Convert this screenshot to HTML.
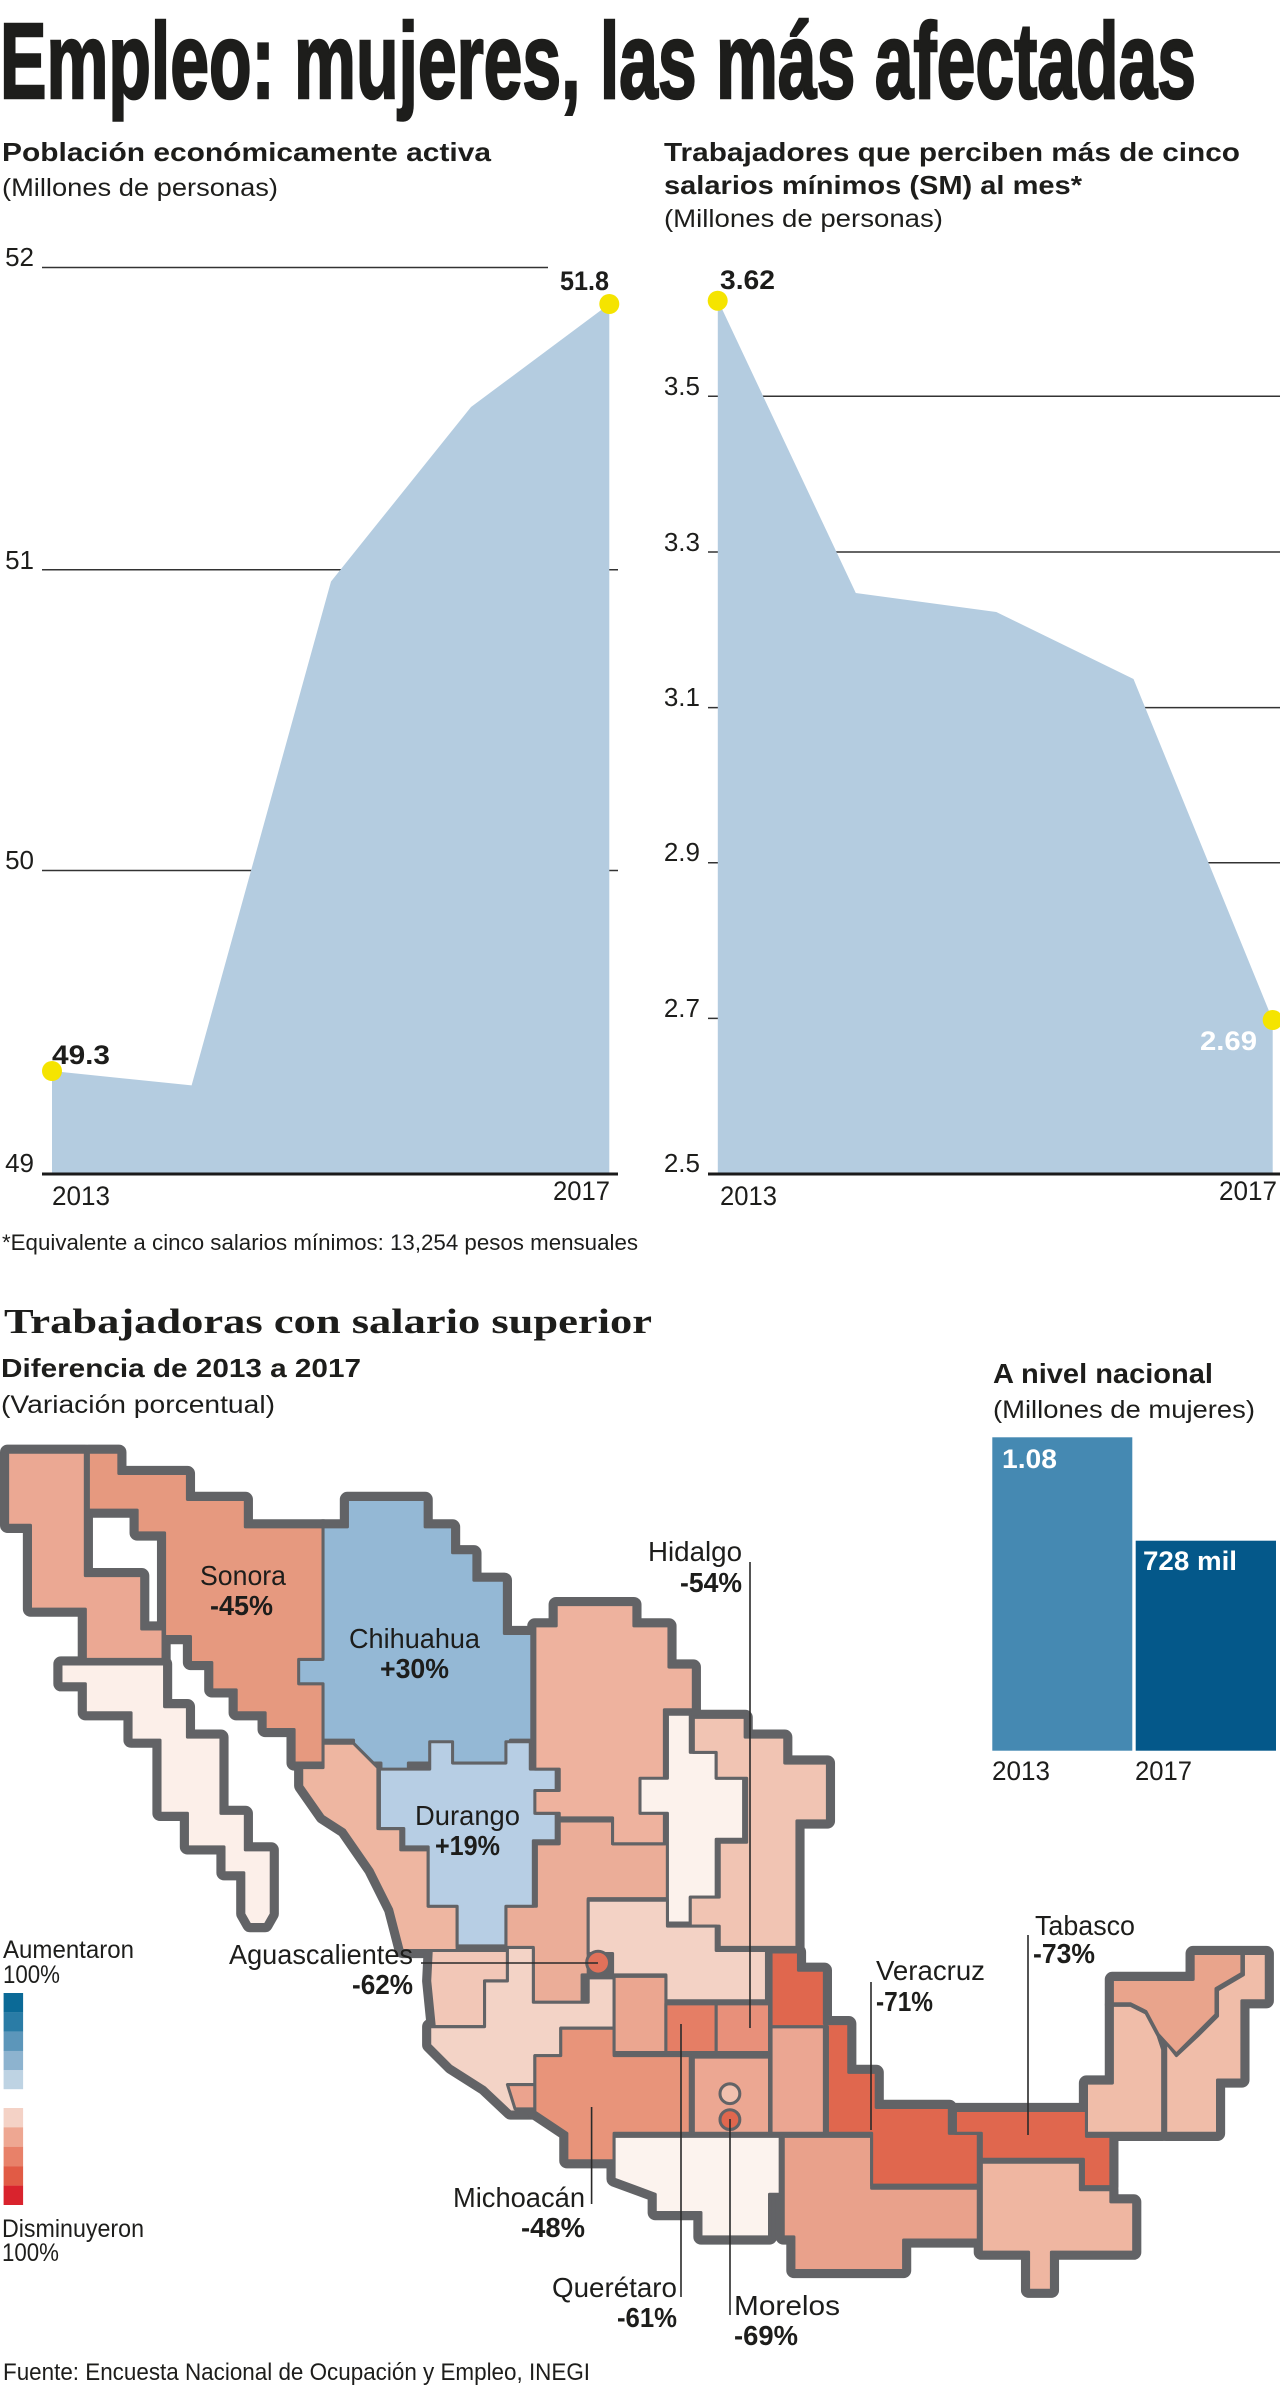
<!DOCTYPE html>
<html>
<head>
<meta charset="utf-8">
<style>
html,body{margin:0;padding:0;background:#fff}
svg{display:block}
text{font-family:"Liberation Sans",sans-serif;fill:#1d1d1b}
.c{font-family:"Liberation Sans Narrow","Liberation Sans",sans-serif}
.b{font-weight:bold}
</style>
</head>
<body>
<svg xmlns="http://www.w3.org/2000/svg" width="1280" height="2388" viewBox="0 0 1280 2388">
<rect x="0" y="0" width="1280" height="2388" fill="#fff"/>

<!-- Title -->
<text class="c b" x="0" y="98" font-size="108" textLength="1196" lengthAdjust="spacingAndGlyphs" stroke="#1d1d1b" stroke-width="2.5">Empleo: mujeres, las más afectadas</text>

<!-- Subtitles -->
<text class="c b" x="2" y="161" font-size="26" textLength="489" lengthAdjust="spacingAndGlyphs">Población económicamente activa</text>
<text class="c" x="2" y="196" font-size="25" textLength="276" lengthAdjust="spacingAndGlyphs">(Millones de personas)</text>
<text class="c b" x="664" y="161" font-size="26" textLength="576" lengthAdjust="spacingAndGlyphs">Trabajadores que perciben más de cinco</text>
<text class="c b" x="664" y="194" font-size="26" textLength="418" lengthAdjust="spacingAndGlyphs">salarios mínimos (SM) al mes*</text>
<text class="c" x="664" y="227" font-size="25" textLength="279" lengthAdjust="spacingAndGlyphs">(Millones de personas)</text>

<!-- Chart 1 -->
<g stroke="#333" stroke-width="1.5">
<line x1="42" y1="267.5" x2="548" y2="267.5"/>
<line x1="42" y1="569.7" x2="618" y2="569.7"/>
<line x1="42" y1="870.5" x2="618" y2="870.5"/>
</g>
<polygon points="52,1071 191.6,1085.4 331,581.5 471,407 609.3,304 609.3,1174 52,1174" fill="#b4cce0"/>
<line x1="42" y1="1174" x2="618" y2="1174" stroke="#1a1a1a" stroke-width="3"/>
<circle cx="52" cy="1071" r="10" fill="#f5e400"/>
<circle cx="609.3" cy="304" r="10" fill="#f5e400"/>
<g font-size="26" fill="#2a2a2a" text-anchor="end">
<text x="34" y="266">52</text>
<text x="34" y="569">51</text>
<text x="34" y="869">50</text>
<text x="34" y="1172">49</text>
</g>
<text class="b" x="52" y="1064" font-size="27" textLength="58" lengthAdjust="spacingAndGlyphs">49.3</text>
<text class="b" x="560" y="290" font-size="27" textLength="49" lengthAdjust="spacingAndGlyphs">51.8</text>
<text x="52" y="1205" font-size="27" textLength="58" lengthAdjust="spacingAndGlyphs">2013</text>
<text x="553" y="1200" font-size="27" textLength="57" lengthAdjust="spacingAndGlyphs">2017</text>

<!-- Chart 2 -->
<g stroke="#333" stroke-width="1.5">
<line x1="708" y1="396.2" x2="1280" y2="396.2"/>
<line x1="708" y1="552" x2="1280" y2="552"/>
<line x1="708" y1="707.6" x2="1280" y2="707.6"/>
<line x1="708" y1="862.7" x2="1280" y2="862.7"/>
<line x1="708" y1="1018.4" x2="1280" y2="1018.4"/>
</g>
<polygon points="717.8,300 855.8,593 996.3,612 1133.5,679 1272.7,1020 1272.7,1174 717.8,1174" fill="#b4cce0"/>
<line x1="708" y1="1174" x2="1280" y2="1174" stroke="#1a1a1a" stroke-width="3"/>
<circle cx="717.7" cy="300.7" r="10" fill="#f5e400"/>
<circle cx="1272.7" cy="1020" r="10" fill="#f5e400"/>
<g font-size="26" fill="#2a2a2a" text-anchor="end">
<text x="700" y="395">3.5</text>
<text x="700" y="551">3.3</text>
<text x="700" y="706">3.1</text>
<text x="700" y="861">2.9</text>
<text x="700" y="1017">2.7</text>
<text x="700" y="1172">2.5</text>
</g>
<text class="b" x="720" y="289" font-size="27" textLength="55" lengthAdjust="spacingAndGlyphs">3.62</text>
<text class="b" x="1200" y="1050" font-size="27" textLength="57" lengthAdjust="spacingAndGlyphs" style="fill:#fff">2.69</text>
<text x="720" y="1205" font-size="27" textLength="57" lengthAdjust="spacingAndGlyphs">2013</text>
<text x="1219" y="1200" font-size="27" textLength="58" lengthAdjust="spacingAndGlyphs">2017</text>

<text x="2" y="1250" font-size="22" textLength="636" lengthAdjust="spacingAndGlyphs">*Equivalente a cinco salarios mínimos: 13,254 pesos mensuales</text>

<!-- Section 2 headings -->
<text x="4" y="1333" font-size="35" font-weight="bold" textLength="648" lengthAdjust="spacingAndGlyphs" style="font-family:'Liberation Serif',serif">Trabajadoras con salario superior</text>
<text class="c b" x="1" y="1377" font-size="26" textLength="360" lengthAdjust="spacingAndGlyphs">Diferencia de 2013 a 2017</text>
<text class="c" x="1" y="1413" font-size="25" textLength="274" lengthAdjust="spacingAndGlyphs">(Variación porcentual)</text>

<!-- Bar chart -->
<text class="c b" x="993" y="1383" font-size="28" textLength="220" lengthAdjust="spacingAndGlyphs">A nivel nacional</text>
<text class="c" x="993" y="1418" font-size="25" textLength="262" lengthAdjust="spacingAndGlyphs">(Millones de mujeres)</text>
<rect x="992.3" y="1437.3" width="140" height="313.4" fill="#4589b2"/>
<rect x="1135.7" y="1540.7" width="140.3" height="210" fill="#04588a"/>
<text class="b" x="1002" y="1468" font-size="27" textLength="55" lengthAdjust="spacingAndGlyphs" style="fill:#fff">1.08</text>
<text class="b" x="1143" y="1570" font-size="27" textLength="94" lengthAdjust="spacingAndGlyphs" style="fill:#fff">728 mil</text>
<text x="992" y="1780" font-size="27" textLength="58" lengthAdjust="spacingAndGlyphs">2013</text>
<text x="1135" y="1780" font-size="27" textLength="57" lengthAdjust="spacingAndGlyphs">2017</text>

<!-- Map -->
<defs>
<polygon id="bc" points="5,953 56,953 56,1034 93,1034 93,1069 107,1069 107,1089 56,1089 56,1056 20,1056 20,1001 5,1001"/>
<polygon id="son" points="58,953 78,953 78,967 123,967 123,984 161,984 161,1002 212,1002 212,1157 193,1157 193,1135 174,1135 174,1124 155,1124 155,1109 139,1109 139,1091 125,1091 125,1074 108,1074 108,1006 90,1006 90,991 58,991"/>
<polygon id="bcs" points="40,1092 108,1092 108,1120 123,1120 123,1140 145,1140 145,1190 161,1190 161,1214 178,1214 178,1256 174,1263 164,1263 160,1256 160,1229 147,1229 147,1212 123,1212 123,1190 105,1190 105,1142 86,1142 86,1124 56,1124 56,1105 40,1105"/>
<polygon id="chi" points="228,984 279,984 279,1002 297,1002 297,1019 311,1019 311,1037 331,1037 331,1072 349,1072 349,1142 335,1142 335,1157 268,1157 268,1175 250,1175 250,1157 232,1157 232,1142 212,1142 212,1105 196,1105 196,1089 212,1089 212,1002 228,1002"/>
<polygon id="sin" points="198,1160 212,1160 212,1144 232,1144 248,1160 248,1200 263,1200 263,1214 281,1214 281,1251 300,1251 300,1280 264,1280 257,1253 244,1227 226,1201 212,1192 198,1172"/>
<polygon id="dur" points="249,1161 282,1161 282,1143 297,1143 297,1157 332,1157 332,1143 348,1143 348,1161 365,1161 365,1175 352,1175 352,1190 365,1190 365,1208 350,1208 350,1251 332,1251 332,1277 300,1277 300,1251 281,1251 281,1212 265,1212 265,1200 249,1200"/>
<polygon id="coa" points="351,1067 365,1067 365,1053 416,1053 416,1067 439,1067 439,1094 455,1094 455,1122 436,1122 436,1210 402,1210 402,1193 367,1193 367,1190 351,1190 351,1175 367,1175 367,1161 351,1161"/>
<polygon id="nl" points="438,1125 453,1125 453,1150 470,1150 470,1167 488,1167 488,1207 470,1207 470,1245 453,1245 453,1262 438,1262 438,1190 420,1190 420,1167 438,1167"/>
<polygon id="tam" points="455,1127 489,1127 489,1140 515,1140 515,1157 543,1157 543,1195 523,1195 523,1278 472,1278 472,1264 453,1264 453,1245 472,1245 472,1209 490,1209 490,1167 470,1167 470,1150 455,1150"/>
<polygon id="zac" points="352,1210 367,1210 367,1195 402,1195 402,1210 438,1210 438,1246 386,1246 386,1296 382,1296 382,1314 350,1314 350,1279 332,1279 332,1251 352,1251"/>
<polygon id="slp" points="386,1247 438,1247 438,1264 470,1264 470,1280 503,1280 503,1313 437,1313 437,1296 402,1296 402,1282 386,1282"/>
<polygon id="nay" points="283,1280 333,1280 333,1300 318,1300 318,1330 285,1330 282,1300"/>
<polygon id="jal" points="333,1278 350,1278 350,1314 386,1314 386,1298 403,1298 403,1331 368,1331 368,1349 351,1349 351,1386 335,1386 318,1370 296,1356 282,1342 282,1330 318,1330 318,1300 333,1300"/>
<polygon id="col" points="333,1368 351,1368 351,1384 338,1384"/>
<polygon id="mic" points="351,1349 368,1349 368,1331 403,1331 403,1349 453,1349 453,1400 403,1400 403,1418 372,1418 372,1400 351,1386"/>
<polygon id="gua" points="403,1297 437,1297 437,1347 403,1347"/>
<polygon id="qro" points="437,1315 470,1315 470,1347 437,1347"/>
<polygon id="hgo" points="470,1315 505,1315 505,1347 470,1347"/>
<polygon id="mex" points="455,1350 505,1350 505,1400 455,1400"/>
<polygon id="pue" points="506,1330 541,1330 541,1400 506,1400"/>
<polygon id="ver" points="506,1281 524,1281 524,1293 541,1293 541,1328 557,1328 557,1360 575,1360 575,1383 623,1383 623,1400 642,1400 642,1434 572,1434 572,1400 543,1400 543,1330 506,1330"/>
<polygon id="gro" points="403,1402 512,1402 512,1440 505,1440 505,1468 460,1468 460,1452 430,1452 430,1440 403,1430"/>
<polygon id="oax" points="514,1402 572,1402 572,1436 642,1436 642,1470 593,1470 593,1490 521,1490 521,1468 514,1468"/>
<polygon id="tab" points="627,1385 713,1385 713,1402 729,1402 729,1435 711,1435 711,1417 644,1417 644,1400 627,1400"/>
<polygon id="chs" points="644,1419 709,1419 709,1437 729,1437 729,1445 744,1445 744,1478 690,1478 690,1503 675,1503 675,1478 644,1478"/>
<polygon id="cam" points="730,1316 742,1316 752,1321 760,1336 763,1345 763,1400 713,1400 713,1367 730,1367"/>
<polygon id="yuc" points="730,1299 783,1299 783,1282 815,1282 815,1295 798,1305 798,1322 785,1335 772,1348 760,1335 752,1320 742,1315 730,1315"/>
<polygon id="qroo" points="816,1282 831,1282 831,1313 815,1313 815,1365 799,1365 799,1400 765,1400 765,1340 772,1349 786,1336 799,1323 799,1306 816,1296"/>
</defs>

<g transform="scale(1.52381)">
<g fill="#626366" stroke="#626366" stroke-width="10" stroke-linejoin="round">
<use href="#bc"/><use href="#son"/><use href="#bcs"/><use href="#chi"/><use href="#sin"/><use href="#dur"/>
<use href="#coa"/><use href="#nl"/><use href="#tam"/><use href="#zac"/><use href="#slp"/><use href="#nay"/>
<use href="#jal"/><use href="#col"/><use href="#mic"/><use href="#gua"/><use href="#qro"/><use href="#hgo"/>
<use href="#mex"/><use href="#pue"/><use href="#ver"/><use href="#gro"/><use href="#oax"/><use href="#tab"/>
<use href="#chs"/><use href="#cam"/><use href="#yuc"/><use href="#qroo"/>
</g>
<g stroke="#626366" stroke-width="2" stroke-linejoin="round">
<use href="#bc" fill="#eba893"/>
<use href="#son" fill="#e6997f"/>
<use href="#bcs" fill="#fcefe9"/>
<use href="#chi" fill="#94b8d5"/>
<use href="#sin" fill="#eeb6a1"/>
<use href="#nay" fill="#f2c7b7"/>
<use href="#zac" fill="#ebad98"/>
<use href="#dur" fill="#b7cee4"/>
<use href="#coa" fill="#eeb29e"/>
<use href="#nl" fill="#fcf2ec"/>
<use href="#tam" fill="#f1c4b3"/>
<use href="#slp" fill="#f3d2c5"/>
<use href="#jal" fill="#f3d3c6"/>
<use href="#col" fill="#eba38e"/>
<use href="#mic" fill="#e8947a"/>
<use href="#gua" fill="#eba690"/>
<use href="#qro" fill="#e57e65"/>
<use href="#hgo" fill="#e8907a"/>
<use href="#mex" fill="#eca792"/>
<use href="#pue" fill="#eba692"/>
<use href="#gro" fill="#fcf3ee"/>
<use href="#oax" fill="#e9a18b"/>
<use href="#ver" fill="#e0674e"/>
<use href="#tab" fill="#e0674e"/>
<use href="#chs" fill="#efb6a1"/>
<use href="#cam" fill="#f0bda9"/>
<use href="#qroo" fill="#f0bda9"/>
<use href="#yuc" fill="#e9a48c"/>
<circle cx="392.5" cy="1288" r="7.5" fill="#e0715a"/>
<circle cx="479" cy="1374" r="6.5" fill="#f1c1af"/>
<circle cx="479" cy="1391" r="6.5" fill="#e0674e"/>
</g>
</g>

<!-- Map leader lines -->
<g stroke="#2a2a2a" stroke-width="1.6">
<line x1="750" y1="1562" x2="750" y2="2028"/>
<line x1="421" y1="1963" x2="598" y2="1963"/>
<line x1="1028" y1="1935" x2="1028" y2="2135"/>
<line x1="871" y1="1982" x2="871" y2="2130"/>
<line x1="591.6" y1="2107" x2="591.6" y2="2204"/>
<line x1="681" y1="2024" x2="681" y2="2297"/>
<line x1="730" y1="2119" x2="730" y2="2315"/>
</g>

<!-- Map labels -->
<g class="c" font-size="28">
<text x="200" y="1585" textLength="86" lengthAdjust="spacingAndGlyphs">Sonora</text>
<text x="349" y="1648" textLength="131" lengthAdjust="spacingAndGlyphs">Chihuahua</text>
<text x="415" y="1825" textLength="105" lengthAdjust="spacingAndGlyphs">Durango</text>
<text x="648" y="1561" textLength="94" lengthAdjust="spacingAndGlyphs">Hidalgo</text>
<text x="229" y="1964" textLength="184" lengthAdjust="spacingAndGlyphs">Aguascalientes</text>
<text x="1035" y="1935" textLength="100" lengthAdjust="spacingAndGlyphs">Tabasco</text>
<text x="876" y="1980" textLength="109" lengthAdjust="spacingAndGlyphs">Veracruz</text>
<text x="453" y="2207" textLength="132" lengthAdjust="spacingAndGlyphs">Michoacán</text>
<text x="552" y="2297" textLength="125" lengthAdjust="spacingAndGlyphs">Querétaro</text>
<text x="734" y="2315" textLength="106" lengthAdjust="spacingAndGlyphs">Morelos</text>
</g>
<g class="c b" font-size="28">
<text x="210" y="1615" textLength="63" lengthAdjust="spacingAndGlyphs">-45%</text>
<text x="380" y="1678" textLength="69" lengthAdjust="spacingAndGlyphs">+30%</text>
<text x="435" y="1855" textLength="65" lengthAdjust="spacingAndGlyphs">+19%</text>
<text x="680" y="1592" textLength="62" lengthAdjust="spacingAndGlyphs">-54%</text>
<text x="352" y="1994" textLength="61" lengthAdjust="spacingAndGlyphs">-62%</text>
<text x="1033" y="1963" textLength="62" lengthAdjust="spacingAndGlyphs">-73%</text>
<text x="876" y="2011" textLength="57" lengthAdjust="spacingAndGlyphs">-71%</text>
<text x="521" y="2237" textLength="64" lengthAdjust="spacingAndGlyphs">-48%</text>
<text x="617" y="2327" textLength="60" lengthAdjust="spacingAndGlyphs">-61%</text>
<text x="734" y="2345" textLength="64" lengthAdjust="spacingAndGlyphs">-69%</text>
</g>

<!-- Legend -->
<g class="c" font-size="25">
<text x="3" y="1958" textLength="131" lengthAdjust="spacingAndGlyphs">Aumentaron</text>
<text x="3" y="1983" textLength="57" lengthAdjust="spacingAndGlyphs">100%</text>
<text x="2" y="2237" textLength="142" lengthAdjust="spacingAndGlyphs">Disminuyeron</text>
<text x="2" y="2261" textLength="57" lengthAdjust="spacingAndGlyphs">100%</text>
</g>
<rect x="3.6" y="1993" width="19.5" height="19.4" fill="#0b6a97"/>
<rect x="3.6" y="2012.3" width="19.5" height="19.4" fill="#2a7ca6"/>
<rect x="3.6" y="2031.6" width="19.5" height="19.4" fill="#5c96ba"/>
<rect x="3.6" y="2050.9" width="19.5" height="19.4" fill="#8db3cf"/>
<rect x="3.6" y="2070.2" width="19.5" height="19" fill="#bed3e3"/>
<rect x="3.6" y="2108" width="19.5" height="19.5" fill="#f4d2c6"/>
<rect x="3.6" y="2127.4" width="19.5" height="19.5" fill="#eea792"/>
<rect x="3.6" y="2146.8" width="19.5" height="19.5" fill="#e88169"/>
<rect x="3.6" y="2166.2" width="19.5" height="19.5" fill="#e15b45"/>
<rect x="3.6" y="2185.6" width="19.5" height="19.4" fill="#d9232d"/>

<text class="c" x="3" y="2380" font-size="24" textLength="587" lengthAdjust="spacingAndGlyphs">Fuente: Encuesta Nacional de Ocupación y Empleo, INEGI</text>
</svg>
</body>
</html>
